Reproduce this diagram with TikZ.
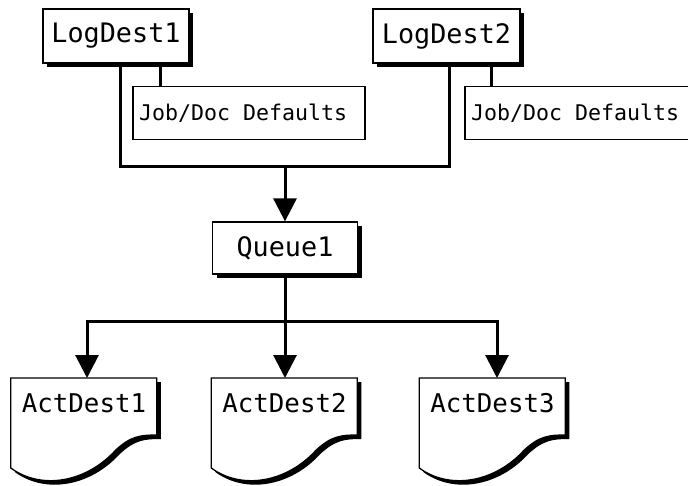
\documentclass[tikz,border=0pt]{standalone}
\usepackage{fontspec}
\newfontfamily\mono{DejaVu Sans Mono}
\usetikzlibrary{arrows.meta,shadows,calc}
\newcommand\msp{\hspace{0.602em}}
\begin{document}
\begin{tikzpicture}[x=1pt,y=-1pt,
  box/.style={draw=black,fill=white,line width=1.3pt,inner sep=0pt,
    general shadow={fill=black,shadow xshift=4pt,shadow yshift=-4pt},
    font=\mono\fontsize{26.8}{30}\selectfont},
  plainbox/.style={draw=black,fill=white,line width=1.3pt,inner xsep=6pt,inner ysep=0pt,
    font=\mono\fontsize{21.6}{24}\selectfont},
  conn/.style={line width=3pt},
  arr/.style={line width=3pt,-{Triangle[width=23pt,length=23pt]}},
  docline/.style={draw=black,line width=1.3pt,fill=white},
  doctext/.style={font=\mono\fontsize{25.8}{30}\selectfont,inner sep=0pt},
  ghost/.style={inner sep=0pt,minimum width=146pt,minimum height=105pt}
]
\useasboundingbox (0,0) rectangle (688,485);

\node[box,minimum width=146pt,minimum height=54pt] (L1) at (116,36) {LogDest1};
\node[box,minimum width=147pt,minimum height=54pt] (L2) at (446.5,36) {LogDest2};
\node[plainbox,minimum height=52.5pt] (J1) at (249,113) {\makebox[220pt][l]{Job/Doc\msp Defaults}};
\node[plainbox,minimum height=52.5pt] (J2) at (585,113) {\makebox[228pt][l]{Job/Doc\msp Defaults}};
\node[box,minimum width=145pt,minimum height=52pt] (Q) at (285,248) {Queue1};

\node[ghost,anchor=north] (D1) at (84,378) {};
\node[ghost,anchor=north] (D2) at (284.5,378) {};
\node[ghost,anchor=north] (D3) at (492.5,378) {};

\draw[conn] ([xshift=44pt]L1.south) -- ([xshift=44pt]L1.south |- J1.north);
\draw[conn] ([xshift=44.5pt]L2.south) -- ([xshift=44.5pt]L2.south |- J2.north);
\coordinate (m) at (285,166);
\draw[conn] ([xshift=4pt]L1.south) |- (m) -| ([xshift=2.5pt]L2.south);
\draw[arr] (m) -- (Q.north);
\draw[conn] (Q.south) -- ++(0,47) coordinate (hub);
\draw[arr] (hub) -| ([xshift=3pt]D1.north);
\draw[arr] (hub) -- (hub |- D2.north);
\draw[arr] (hub) -| ([xshift=4.5pt]D3.north);

\foreach \d/\t in {D1/ActDest1,D2/ActDest2,D3/ActDest3}{
  \begin{scope}[shift={(\d.north west)}]
    \fill[black,shift={(4,4)}] (0,0) -- (146,0) -- (146,57)
      .. controls (130,57) and (120,58) .. (105,72)
      .. controls (75,105) and (30,112) .. (0,90) -- cycle;
    \path[docline] (0,0) -- (146,0) -- (146,57)
      .. controls (130,57) and (120,58) .. (105,72)
      .. controls (75,105) and (30,112) .. (0,90) -- cycle;
  \end{scope}
  \node[doctext] (\d t) at ([yshift=-25pt]\d.north) {\t};
}
\end{tikzpicture}
\end{document}
